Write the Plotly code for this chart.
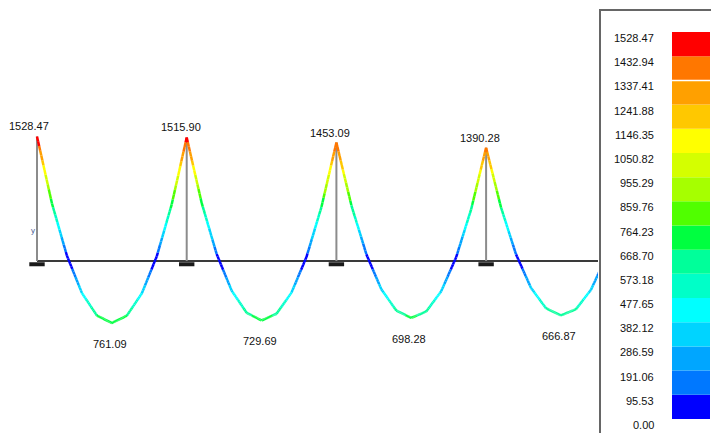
import plotly.graph_objects as go

# ---------------- data ----------------
support_moment = [1528.47, 1515.90, 1453.09, 1390.28, 1327.47]   # hogging moments at supports
span_min_label = [761.09, 729.69, 698.28, 666.87]                 # sagging moment at midspan
# moments at tenth points of each span (support -> support)
span_nodes = [
    [1528.47, 705.23, 64.66, -393.25, -668.50, -761.09, -671.01, -398.28, 57.11, 695.18, 1515.90],
    [1515.90, 712.51, 86.26, -362.86, -634.84, -729.69, -647.41, -387.99, 48.57, 662.26, 1453.09],
    [1453.09, 683.62, 83.75, -346.52, -607.20, -698.28, -619.77, -371.65, 46.06, 633.37, 1390.28],
    [1390.28, 654.73, 81.24, -330.19, -579.56, -666.87, -592.13, -355.32, 43.55, 654.73, 1327.47],
]
legend_ticks = [0.00, 95.53, 191.06, 286.59, 382.12, 477.65, 573.18, 668.70, 764.23,
                859.76, 955.29, 1050.82, 1146.35, 1241.88, 1337.41, 1432.94, 1528.47]
legend_colors = ["#0000FF", "#0078FF", "#00A6FF", "#00D4FF", "#00FFFF", "#00FFC8",
                 "#00FF9A", "#00FF40", "#50FF00", "#A6FF00", "#D4FF00", "#FFFF00",
                 "#FFC800", "#FFA000", "#FF7700", "#FF0000"]

FONT = "Liberation Sans, Arial, sans-serif"
TXT = "#111111"

# page offset (the browser's default body margin)
OFF = 8
W, H = 719 - OFF, 433 - OFF


def fx(px):
    return (px - OFF) / W


def fy(py):
    return (433 - py) / H


def bin_of(v):
    a = abs(v)
    for i in range(len(legend_colors)):
        if a < legend_ticks[i + 1]:
            return i
    return len(legend_colors) - 1


fig = go.Figure()

# baseline (beam axis)
n_sup = len(support_moment)
fig.add_trace(go.Scatter(x=[0, n_sup - 1], y=[0, 0], mode="lines",
                         line=dict(color="#3a3a3a", width=2), hoverinfo="skip", showlegend=False))

# vertical lines at supports
vx, vy = [], []
for i, m in enumerate(support_moment):
    vx += [i, i, None]
    vy += [0, m, None]
fig.add_trace(go.Scatter(x=vx, y=vy, mode="lines", line=dict(color="#8c8c8c", width=2),
                         hoverinfo="skip", showlegend=False))

# coloured moment curve, grouped by colour bin
groups = {i: ([], []) for i in range(len(legend_colors))}
SUB = 14
for s, nodes in enumerate(span_nodes):
    nseg = len(nodes) - 1
    for k in range(nseg):
        x0, x1 = s + k / nseg, s + (k + 1) / nseg
        v0, v1 = nodes[k], nodes[k + 1]
        for j in range(SUB):
            a, b = j / SUB, (j + 1) / SUB
            xa, xb = x0 + (x1 - x0) * a, x0 + (x1 - x0) * b
            ya, yb = v0 + (v1 - v0) * a, v0 + (v1 - v0) * b
            g = bin_of((ya + yb) / 2)
            groups[g][0].extend([xa, xb, None])
            groups[g][1].extend([ya, yb, None])
for g, (gx, gy) in groups.items():
    if gx:
        fig.add_trace(go.Scatter(x=gx, y=gy, mode="lines",
                                 line=dict(color=legend_colors[g], width=2.5),
                                 hoverinfo="skip", showlegend=False))

# support symbols
fig.add_trace(go.Scatter(x=list(range(n_sup)), y=[-40] * n_sup, mode="markers",
                         marker=dict(symbol="line-ew", size=11,
                                     line=dict(color="#1a1a1a", width=4)),
                         hoverinfo="skip", showlegend=False))

# legend colour boxes (second axes)
fig.add_trace(go.Bar(x=[0] * len(legend_colors),
                     y=[legend_ticks[i + 1] - legend_ticks[i] for i in range(len(legend_colors))],
                     base=legend_ticks[:-1], width=1,
                     marker=dict(color=legend_colors, line=dict(width=0)),
                     xaxis="x2", yaxis="y2", hoverinfo="skip", showlegend=False))
# thin white separator visible in the reference legend
fig.add_trace(go.Scatter(x=[-0.5, 0.5], y=[legend_ticks[14]] * 2, mode="lines",
                         line=dict(color="white", width=1.5), xaxis="x2", yaxis="y2",
                         hoverinfo="skip", showlegend=False))

annotations = []
# peak labels
for i, m in enumerate(support_moment[:4]):
    annotations.append(dict(x=i, y=m, xref="x", yref="y", text=f"{m:.2f}", showarrow=False,
                            xanchor="center", yanchor="middle", xshift=-8 if i == 0 else -6,
                            yshift=10, font=dict(family=FONT, size=11, color=TXT)))
# midspan labels
for s, v in enumerate(span_min_label):
    annotations.append(dict(x=s + 0.5, y=-v, xref="x", yref="y", text=f"{v:.2f}", showarrow=False,
                            xanchor="center", yanchor="middle", xshift=-2, yshift=-21,
                            font=dict(family=FONT, size=11, color=TXT)))
# small local axis label
annotations.append(dict(x=0, y=380, xref="x", yref="y", text="y", showarrow=False,
                        xanchor="center", yanchor="middle", xshift=-4,
                        font=dict(family=FONT, size=8, color="#4b5f95")))
# legend labels
for t in legend_ticks:
    annotations.append(dict(x=-0.5, y=t, xref="x2", yref="y2", text=f"{t:.2f}", showarrow=False,
                            xanchor="right", yanchor="middle", xshift=-16, yshift=-6,
                            font=dict(family=FONT, size=11, color=TXT)))

px_per_unit = 0.0815
base_px = 261
span_px = 149.7
left_px = 37

fig.update_layout(
    width=W, height=H, margin=dict(l=0, r=0, t=0, b=0),
    paper_bgcolor="white", plot_bgcolor="white",
    barmode="overlay",
    xaxis=dict(domain=[0, fx(598)], range=[(OFF - left_px) / span_px, (598 - left_px) / span_px],
               visible=False, fixedrange=True),
    yaxis=dict(domain=[0, 1], range=[-(433 - base_px) / px_per_unit, (base_px - OFF) / px_per_unit],
               visible=False, fixedrange=True),
    xaxis2=dict(domain=[fx(672), fx(710)], range=[-0.5, 0.5], visible=False, anchor="y2",
                fixedrange=True),
    yaxis2=dict(domain=[fy(419), fy(32)], range=[legend_ticks[0], legend_ticks[-1]],
                visible=False, anchor="x2", fixedrange=True),
    shapes=[dict(type="rect", xref="paper", yref="paper", x0=fx(600), x1=fx(712.5),
                 y0=-0.05, y1=fy(10), line=dict(color="#666666", width=2),
                 fillcolor="white", layer="below")],
    annotations=annotations,
)

fig.write_html("out.html")
